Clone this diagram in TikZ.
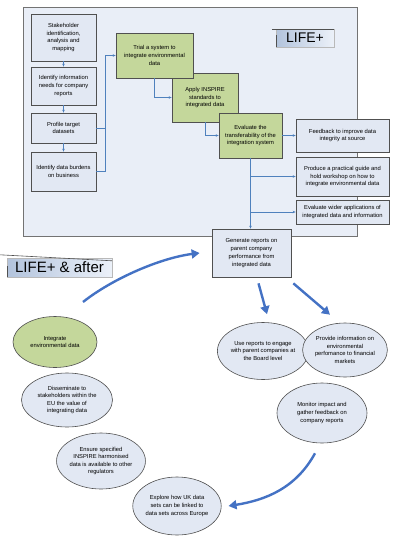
\documentclass[tikz,border=0pt]{standalone}
\usepackage{fontspec}
\setmainfont{Liberation Sans}
\definecolor{PanelFill}{RGB}{233,238,247}
\definecolor{BoxFill}{RGB}{226,232,243}
\definecolor{EdgeGray}{RGB}{80,80,80}
\definecolor{LeafGreen}{RGB}{196,215,155}
\definecolor{LinkBlue}{RGB}{79,129,189}
\definecolor{BigBlue}{RGB}{68,114,196}
\definecolor{TagDark}{RGB}{178,195,220}
\definecolor{TagLight}{RGB}{236,241,249}
\usetikzlibrary{shapes.geometric, arrows.meta, positioning}

\begin{document}
\begin{tikzpicture}[x=1pt,y=-1pt,
        blk/.style={draw=EdgeGray,fill=BoxFill,line width=0.7pt,
                    inner sep=1pt,font=\fontsize{5.8}{7.8}\selectfont,align=center},
        grn/.style={blk,fill=LeafGreen},
        oval/.style={ellipse,draw=EdgeGray,fill=BoxFill,line width=0.6pt,inner sep=0pt,
                     font=\fontsize{5.8}{7.6}\selectfont,align=center},
        tag/.style={left color=TagDark,right color=TagLight,draw=EdgeGray!40,
                    inner sep=0pt,font=\fontsize{14}{16}\selectfont},
        tagline/.style={EdgeGray,line width=0.6pt},
        link/.style={LinkBlue,line width=0.5pt},
        arrow/.style={-{Stealth[length=3pt,width=2.5pt]},LinkBlue,line width=0.5pt},
        bigarrow/.style={-{Triangle[length=8pt,width=9pt]},BigBlue,line width=2.4pt}]
        \useasboundingbox (0,0) rectangle (400,541);

        % LIFE+ panel
        \node[draw=EdgeGray!80,fill=PanelFill,line width=0.6pt,minimum width=334pt,
              minimum height=229pt] (panel) at (190,121.5) {};
        \node[tag,minimum width=58pt,minimum height=18pt] (tag1) at (305,38) {LIFE+};
        \draw[tagline] ([xshift=-4]tag1.north west) -- (tag1.north east);
        \draw[tagline] ([yshift=-6]tag1.north west) -- (tag1.south west);

        % left column
        \node[blk,minimum width=65pt,minimum height=47pt] (b1) at (63.5,37.5) {Stakeholder\\identification,\\analysis and\\mapping};
        \node[blk,minimum width=65pt,minimum height=38pt] (b2) at (63.5,86) {Identify information\\needs for company\\reports};
        \node[blk,minimum width=65pt,minimum height=30pt] (b3) at (63.5,128) {Profile target\\datasets};
        \node[blk,minimum width=65pt,minimum height=39pt] (b4) at (63.5,171.5) {Identify data burdens\\on business};
        \draw[arrow] (b1)--(b2); \draw[arrow] (b2)--(b3); \draw[arrow] (b3)--(b4);

        % green steps
        \node[grn,minimum width=66pt,minimum height=49pt] (g2) at (205,97.5) {Apply INSPIRE\\standards to\\integrated data};
        \node[grn,minimum width=77pt,minimum height=45pt] (g1) at (154.5,55.5) {Trial a system to\\integrate environmental\\data};
        \node[grn,minimum width=63pt,minimum height=45pt] (g3) at (250.5,135.5) {Evaluate the\\transferability of the\\integration system};

        % outputs on the right
        \node[blk,minimum width=93pt,minimum height=33pt] (fb) at (342.5,135.5) {Feedback to improve data\\integrity at source};
        \node[blk,minimum width=93pt,minimum height=39pt] (pr) at (342.5,176.5) {Produce a practical guide and\\hold workshop on how to\\integrate environmental data};
        \node[blk,minimum width=93pt,minimum height=24pt] (ev) at (342.5,212) {Evaluate wider applications of\\integrated data and information};
        \node[blk,minimum width=79pt,minimum height=48pt] (gen) at (251.5,253) {Generate reports on\\parent company\\performance from\\integrated data};

        \coordinate (jn) at (105,171.5);
        \draw[link] (b3.east) -- (b3.east -| jn);
        \draw[arrow] (b4.east) -- (jn) |- (g1.west);
        \draw[arrow] (g1.south) |- (g2.west);
        \draw[arrow] (g2.south) |- (g3.west);
        \draw[arrow] (g3.east) -- (fb.west);
        \draw[arrow] (g3.south) -- (g3.south |- gen.north);
        \draw[arrow] (g3.south |- pr.west) -- (pr.west);
        \draw[arrow] (g3.south |- ev.west) -- (ev.west);

        % LIFE+ & after
        \node[tag,minimum width=105pt,minimum height=19pt,font=\fontsize{15}{17}\selectfont] (tag2) at (59.5,267.5) {LIFE+ \& after};
        \draw[tagline] ([shift={(-7,-3)}]tag2.north west) -- ([yshift=-3]tag2.north east);
        \draw[tagline] ([yshift=-8]tag2.north west) -- (tag2.south west);

        % left chain of ovals
        \node[oval,fill=LeafGreen,minimum width=84pt,minimum height=51pt] (int) at (55,342) {Integrate\\environmental data};
        \node[oval,minimum width=91pt,minimum height=54pt] (dis) at (67,400) {Disseminate to\\stakeholders within the\\EU the value of\\integrating data};
        \node[oval,minimum width=78pt,minimum height=56pt] (ens) at (101,461) {Ensure specified\\INSPIRE harmonised\\data is available to other\\regulators};
        \node[oval,minimum width=88pt,minimum height=58pt] (exp) at (177,506) {Explore how UK data\\sets can be linked to\\data sets across Europe};

        % right chain of ovals
        \node[oval,minimum width=88pt,minimum height=57pt] (use) at (263,351) {Use reports to engage\\with parent companies at\\the Board level};
        \node[oval,minimum width=84pt,minimum height=54pt] (prov) at (345,350) {Provide information on\\environmental\\perfomance to financial\\markets};
        \node[oval,minimum width=90pt,minimum height=60pt] (mon) at (322,413) {Monitor impact and\\gather feedback on\\company reports};

        % big arrows
        \coordinate (up) at (83,302);
        \draw[bigarrow] (up) .. controls (112,279) and (160,258) .. ([xshift=-12]gen.west);
        \draw[bigarrow] ([shift={(7,6)}]gen.south) -- ([shift={(4,-8)}]use.north);
        \draw[bigarrow] ([shift={(2,6)}]gen.south east) -- ([shift={(-15,-8)}]prov.north);
        \draw[bigarrow] ([shift={(-7,10)}]mon.south) .. controls (296,488) and (266,500) .. ([xshift=7]exp.east);
      \end{tikzpicture}
\end{document}
